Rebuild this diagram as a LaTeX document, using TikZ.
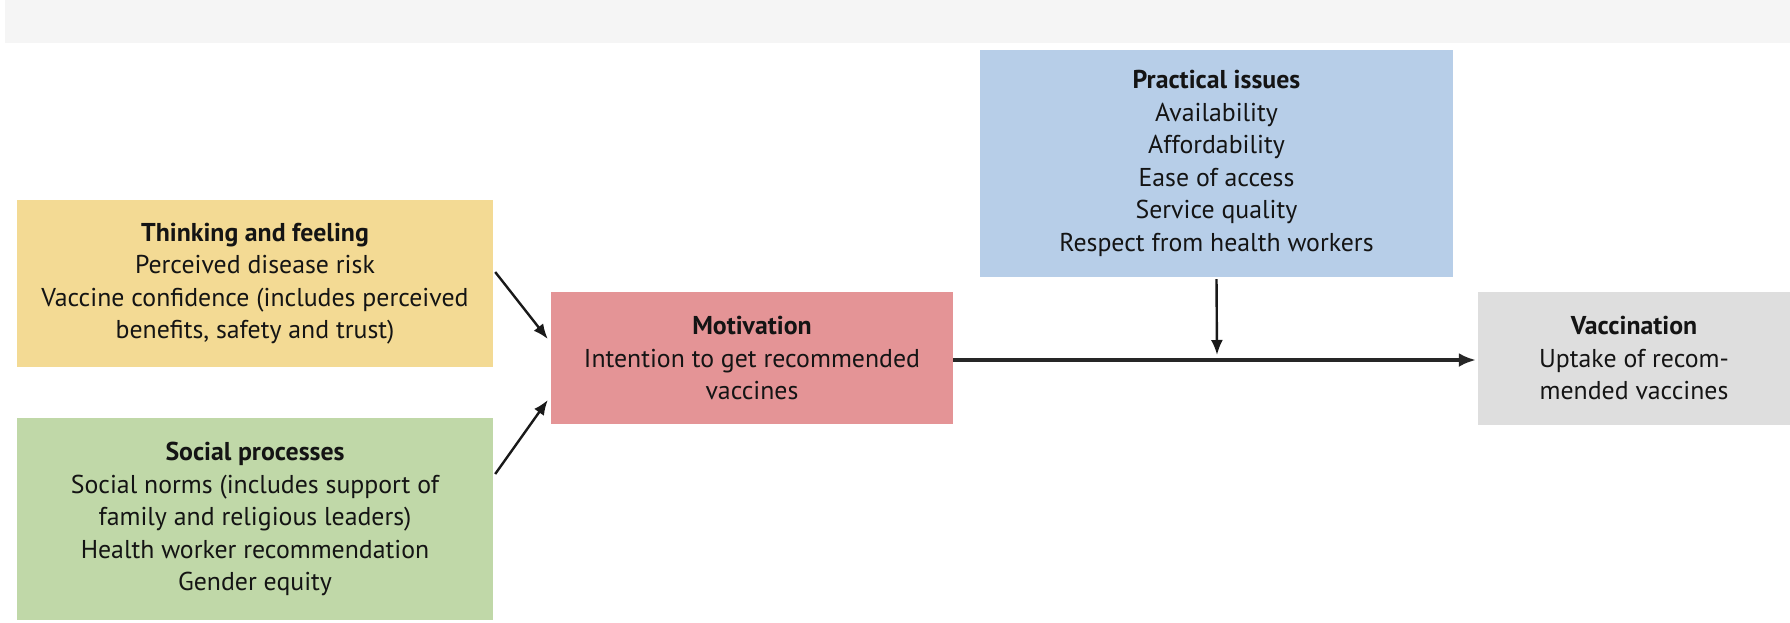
\documentclass[tikz,border=0pt]{standalone}
\usepackage{fontspec}
\setmainfont{PT Sans}
\usetikzlibrary{arrows.meta}
\definecolor{bandgray}{RGB}{245,245,245}
\definecolor{thinkfill}{RGB}{243,218,148}
\definecolor{socialfill}{RGB}{192,216,168}
\definecolor{motivfill}{RGB}{228,148,150}
\definecolor{practfill}{RGB}{183,206,232}
\definecolor{vaccfill}{RGB}{222,222,222}
\definecolor{inktext}{RGB}{20,20,20}
\tikzset{
  factor/.style={draw=none, inner sep=0pt, align=center, text=inktext,
    font=\fontsize{25.8}{32.5}\selectfont},
  flowarrow/.style={-{Latex[length=15pt,width=12pt]}, line width=2.4pt, draw=black!90},
  mainarrow/.style={-{Latex[length=17pt,width=14pt]}, line width=3.4pt, draw=black!85},
}
\begin{document}
\begin{tikzpicture}[x=1pt,y=-1pt]
  \useasboundingbox (0,0) rectangle (1790,622);
  \fill[white] (0,0) rectangle (1790,622);
  % header strip
  \fill[bandgray] (5,0) rectangle (1790,43);

  % factor boxes
  \node[factor, fill=thinkfill, minimum width=476pt, minimum height=167pt]
    (think) at (255,283.5)
    {\textbf{Thinking and feeling}\\Perceived disease risk\\Vaccine confidence (includes perceived\\benefits, safety and trust)};
  \node[factor, fill=socialfill, minimum width=476pt, minimum height=202pt]
    (social) at (255,519)
    {\textbf{Social processes}\\Social norms (includes support of\\family and religious leaders)\\Health worker recommendation\\Gender equity};
  \node[factor, fill=motivfill, minimum width=402pt, minimum height=132pt]
    (motiv) at (752,358)
    {\textbf{Motivation}\\Intention to get recommended\\vaccines};
  \node[factor, fill=practfill, minimum width=473pt, minimum height=227pt]
    (pract) at (1216.5,163.5)
    {\textbf{Practical issues}\\Availability\\Affordability\\Ease of access\\Service quality\\Respect from health workers};
  \node[factor, fill=vaccfill, minimum width=312pt, minimum height=133pt]
    (vacc) at (1634,358)
    {\textbf{Vaccination}\\Uptake of recom-\\mended vaccines};

  % connectors
  \draw[flowarrow] ([xshift=2pt,yshift=11.5pt]think.east) -- ([xshift=-3pt,yshift=19pt]motiv.west);
  \draw[flowarrow] ([xshift=2pt,yshift=45pt]social.east) -- ([xshift=-3pt,yshift=-42pt]motiv.west);
  \draw[mainarrow] ([yshift=-2pt]motiv.east) -- ([xshift=-2pt,yshift=-2pt]vacc.west);
  \coordinate (join) at (1217,355);
  \draw[flowarrow] ([yshift=-2pt]pract.south) -- (join);
\end{tikzpicture}
\end{document}
